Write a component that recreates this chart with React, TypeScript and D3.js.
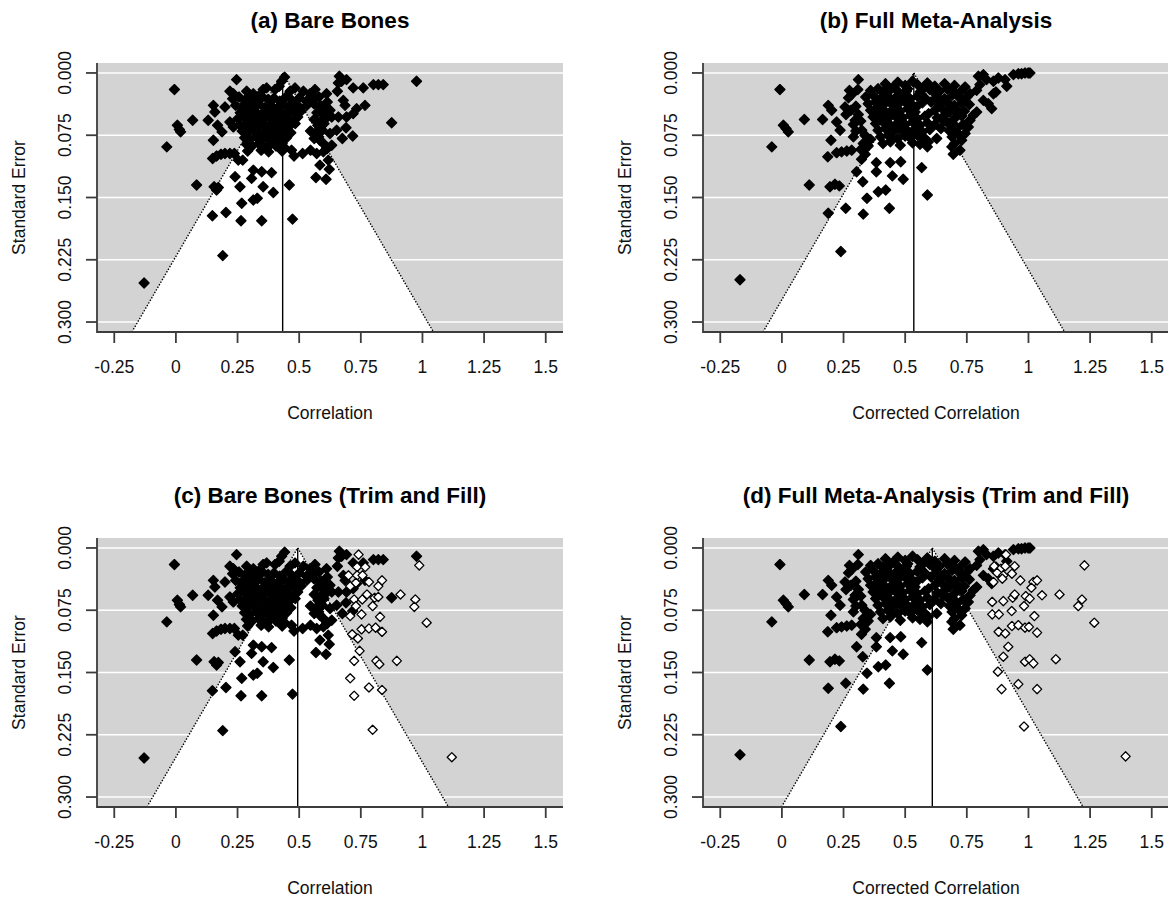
import React from 'react';
import * as d3 from 'd3';

type Pt = [number, number];

// x tick values / labels shared by all four funnel plots
const xTicks = [-0.25, 0, 0.25, 0.5, 0.75, 1, 1.25, 1.5];
const xTickLabels = ['-0.25', '0', '0.25', '0.5', '0.75', '1', '1.25', '1.5'];
const yTicks = [0, 0.075, 0.15, 0.225, 0.3];
const yTickLabels = ['0.000', '0.075', '0.150', '0.225', '0.300'];

// pooled estimates (vertical reference line)
const estimates = { a: 0.433, b: 0.535, c: 0.494, d: 0.61 };

// observed studies, bare-bones correlation vs standard error
const bareBones: Pt[] = [
  [-0.129, 0.253], [0.19, 0.22], [0.976, 0.01], [0.875, 0.06],
  [-0.006, 0.02], [-0.037, 0.089], [0.006, 0.063], [0.014, 0.068], [0.019, 0.071],
  [0.068, 0.057], [0.084, 0.135], [0.131, 0.057], [0.152, 0.039], [0.158, 0.047],
  [0.199, 0.041], [0.169, 0.063], [0.187, 0.071], [0.219, 0.059], [0.246, 0.008],
  [0.233, 0.065], [0.152, 0.081],
  [0.149, 0.103], [0.165, 0.1], [0.183, 0.098], [0.199, 0.097], [0.219, 0.097], [0.237, 0.097], [0.253, 0.105], [0.271, 0.105],
  [0.24, 0.125], [0.314, 0.117], [0.348, 0.119], [0.388, 0.12], [0.307, 0.127], [0.26, 0.137], [0.354, 0.137], [0.395, 0.144],
  [0.155, 0.137], [0.172, 0.138], [0.165, 0.141], [0.267, 0.157], [0.314, 0.153], [0.33, 0.151],
  [0.148, 0.172], [0.203, 0.168], [0.264, 0.178], [0.348, 0.178], [0.46, 0.135], [0.473, 0.176],
  [0.584, 0.111], [0.618, 0.105], [0.622, 0.116], [0.568, 0.126], [0.609, 0.128],
  [0.469, 0.093], [0.479, 0.1], [0.514, 0.097], [0.546, 0.093], [0.571, 0.097], [0.598, 0.095],
  [0.614, 0.091], [0.632, 0.087], [0.611, 0.089], [0.598, 0.085], [0.584, 0.081],
  [0.663, 0.004], [0.672, 0.01], [0.692, 0.008], [0.659, 0.012], [0.655, 0.022], [0.679, 0.033],
  [0.686, 0.039], [0.719, 0.018], [0.76, 0.018], [0.801, 0.014], [0.821, 0.014], [0.841, 0.014],
  [0.767, 0.039], [0.733, 0.043], [0.719, 0.049], [0.692, 0.053], [0.659, 0.053], [0.69, 0.066],
  [0.717, 0.076], [0.675, 0.079], [0.652, 0.069], [0.625, 0.073], [0.611, 0.025], [0.614, 0.035],
  [0.584, 0.041], [0.625, 0.045], [0.632, 0.053],
  [0.429, 0.01], [0.419, 0.016], [0.441, 0.005],
  [0.219, 0.022], [0.233, 0.025], [0.287, 0.022], [0.314, 0.025], [0.354, 0.02], [0.368, 0.018],
  [0.402, 0.02], [0.463, 0.022], [0.483, 0.018], [0.517, 0.022], [0.544, 0.025], [0.564, 0.02],
  [0.23, 0.031], [0.256, 0.029], [0.279, 0.033], [0.302, 0.03], [0.326, 0.034], [0.351, 0.029],
  [0.374, 0.032], [0.398, 0.03], [0.421, 0.034], [0.446, 0.029], [0.471, 0.033], [0.5, 0.03],
  [0.529, 0.034], [0.556, 0.031], [0.58, 0.029],
  [0.242, 0.039], [0.266, 0.042], [0.289, 0.038], [0.311, 0.041], [0.336, 0.037], [0.361, 0.042],
  [0.386, 0.039], [0.409, 0.043], [0.434, 0.038], [0.456, 0.041], [0.479, 0.037], [0.503, 0.042],
  [0.531, 0.039], [0.56, 0.037], [0.59, 0.04], [0.604, 0.043],
  [0.261, 0.048], [0.284, 0.046], [0.301, 0.05], [0.324, 0.047], [0.346, 0.05], [0.371, 0.046],
  [0.394, 0.049], [0.419, 0.047], [0.44, 0.05], [0.466, 0.046], [0.49, 0.049], [0.508, 0.046],
  [0.572, 0.048], [0.601, 0.05],
  [0.251, 0.055], [0.276, 0.053], [0.296, 0.057], [0.319, 0.054], [0.341, 0.058], [0.366, 0.053],
  [0.389, 0.056], [0.411, 0.054], [0.431, 0.058], [0.454, 0.055], [0.476, 0.057], [0.494, 0.053],
  [0.561, 0.056], [0.586, 0.058], [0.608, 0.055],
  [0.259, 0.062], [0.281, 0.064], [0.306, 0.061], [0.329, 0.065], [0.354, 0.062], [0.376, 0.064],
  [0.399, 0.061], [0.421, 0.065], [0.439, 0.062], [0.461, 0.064], [0.484, 0.061],
  [0.576, 0.063], [0.601, 0.061],
  [0.269, 0.07], [0.291, 0.072], [0.314, 0.069], [0.339, 0.073], [0.361, 0.07], [0.384, 0.072],
  [0.406, 0.069], [0.424, 0.073], [0.446, 0.07], [0.466, 0.072], [0.546, 0.07], [0.569, 0.072], [0.594, 0.069],
  [0.279, 0.078], [0.301, 0.08], [0.326, 0.077], [0.344, 0.081], [0.369, 0.078], [0.391, 0.08],
  [0.411, 0.077], [0.431, 0.081], [0.449, 0.078], [0.561, 0.079], [0.579, 0.077],
  [0.286, 0.086], [0.309, 0.088], [0.336, 0.085], [0.359, 0.089], [0.384, 0.086], [0.406, 0.088],
  [0.431, 0.085], [0.441, 0.09],
  [0.291, 0.094], [0.346, 0.093], [0.376, 0.095], [0.431, 0.094],
  [0.335, 0.028], [0.385, 0.046], [0.445, 0.052], [0.295, 0.065], [0.355, 0.074], [0.415, 0.082],
  [0.475, 0.044], [0.31, 0.057], [0.4, 0.065], [0.27, 0.04],
];

// observed studies, fully corrected correlation vs standard error
const fullMeta: Pt[] = [
  [-0.17, 0.249], [0.239, 0.215], [-0.008, 0.02], [-0.041, 0.089], [0.006, 0.063], [0.017, 0.067], [0.026, 0.071],
  [0.091, 0.056], [0.111, 0.135], [0.165, 0.056], [0.188, 0.039], [0.202, 0.045], [0.199, 0.081],
  [0.186, 0.101], [0.222, 0.096], [0.242, 0.095], [0.263, 0.094], [0.283, 0.093],
  [0.195, 0.137], [0.215, 0.134], [0.233, 0.136], [0.188, 0.169], [0.259, 0.163], [0.33, 0.17], [0.345, 0.151],
  [0.328, 0.131], [0.303, 0.119], [0.323, 0.104], [0.338, 0.098], [0.383, 0.108], [0.383, 0.119],
  [0.391, 0.143], [0.421, 0.141], [0.439, 0.108], [0.448, 0.124], [0.482, 0.107], [0.492, 0.128],
  [0.436, 0.163], [0.567, 0.114], [0.59, 0.147],
  [0.31, 0.008], [0.274, 0.021], [0.308, 0.02], [0.256, 0.041], [0.222, 0.059], [0.236, 0.069],
  [0.29, 0.077], [0.297, 0.057], [0.27, 0.03], [0.283, 0.026], [0.324, 0.069], [0.337, 0.075],
  [0.26, 0.05], [0.28, 0.045], [0.3, 0.04], [0.31, 0.05], [0.29, 0.062], [0.32, 0.058], [0.3, 0.07],
  [0.33, 0.085], [0.32, 0.092], [0.35, 0.088], [0.36, 0.08],
  [0.576, 0.079], [0.594, 0.083], [0.628, 0.079], [0.695, 0.098], [0.689, 0.089],
  [0.797, 0.004], [0.817, 0.002], [0.803, 0.014], [0.83, 0.008], [0.858, 0.01], [0.878, 0.006],
  [0.905, 0.008], [0.912, 0.016], [0.939, 0.002], [0.959, 0.001], [0.972, 0.001], [0.986, 0.0],
  [0.999, 0.0], [1.006, 0.0], [0.858, 0.025], [0.868, 0.023], [0.817, 0.033], [0.837, 0.037],
  [0.851, 0.043], [0.79, 0.047], [0.776, 0.051], [0.763, 0.057], [0.756, 0.065], [0.743, 0.073],
  [0.729, 0.081], [0.722, 0.093], [0.743, 0.017], [0.763, 0.025], [0.79, 0.021], [0.709, 0.072], [0.686, 0.064],
  [0.42, 0.013], [0.47, 0.011], [0.5, 0.015], [0.53, 0.01], [0.55, 0.014], [0.59, 0.012], [0.62, 0.016], [0.66, 0.013], [0.7, 0.015],
  [0.36, 0.021], [0.39, 0.019], [0.41, 0.023], [0.44, 0.02], [0.47, 0.022], [0.51, 0.019], [0.56, 0.023],
  [0.6, 0.02], [0.64, 0.022], [0.67, 0.019], [0.7, 0.023], [0.73, 0.021],
  [0.34, 0.029], [0.37, 0.027], [0.4, 0.031], [0.43, 0.028], [0.46, 0.03], [0.49, 0.027], [0.52, 0.031],
  [0.55, 0.028], [0.58, 0.03], [0.63, 0.029], [0.66, 0.031], [0.69, 0.027], [0.72, 0.03], [0.75, 0.029],
  [0.35, 0.037], [0.38, 0.035], [0.41, 0.039], [0.44, 0.036], [0.47, 0.038], [0.5, 0.035], [0.53, 0.039],
  [0.57, 0.036], [0.64, 0.038], [0.67, 0.035], [0.7, 0.039], [0.73, 0.036], [0.76, 0.038],
  [0.36, 0.045], [0.39, 0.043], [0.42, 0.047], [0.45, 0.044], [0.48, 0.046], [0.51, 0.043], [0.54, 0.047],
  [0.62, 0.045], [0.65, 0.043], [0.68, 0.047], [0.71, 0.044], [0.74, 0.046],
  [0.37, 0.053], [0.4, 0.051], [0.43, 0.055], [0.46, 0.052], [0.49, 0.054], [0.52, 0.051], [0.55, 0.055],
  [0.58, 0.052], [0.63, 0.054], [0.66, 0.051], [0.7, 0.055], [0.73, 0.052],
  [0.38, 0.061], [0.41, 0.059], [0.44, 0.063], [0.47, 0.06], [0.5, 0.062], [0.53, 0.059], [0.56, 0.063],
  [0.59, 0.06], [0.62, 0.062], [0.67, 0.059], [0.7, 0.063],
  [0.39, 0.069], [0.42, 0.067], [0.45, 0.071], [0.48, 0.068], [0.51, 0.07], [0.54, 0.067], [0.57, 0.071],
  [0.6, 0.068], [0.68, 0.07], [0.71, 0.067],
  [0.4, 0.077], [0.43, 0.075], [0.47, 0.079], [0.5, 0.076], [0.52, 0.078], [0.55, 0.075], [0.58, 0.079],
  [0.69, 0.077], [0.72, 0.075],
  [0.41, 0.085], [0.44, 0.083], [0.48, 0.087], [0.53, 0.084], [0.56, 0.086], [0.59, 0.089], [0.7, 0.085],
  [0.455, 0.016], [0.575, 0.018], [0.625, 0.026], [0.485, 0.033], [0.545, 0.041], [0.605, 0.035],
  [0.435, 0.049], [0.595, 0.049], [0.655, 0.058], [0.465, 0.065], [0.525, 0.073], [0.445, 0.079],
  [0.735, 0.062], [0.405, 0.055], [0.375, 0.045], [0.685, 0.041], [0.715, 0.049], [0.505, 0.022],
  [0.415, 0.031], [0.645, 0.067],
];

// imputed (trim and fill) studies, bare bones
const bareBonesFilled: Pt[] = [
  [0.741, 0.008], [0.735, 0.023], [0.768, 0.023], [0.7, 0.033], [0.735, 0.033], [0.757, 0.033],
  [0.707, 0.046], [0.73, 0.042], [0.783, 0.041], [0.821, 0.046], [0.836, 0.039], [0.723, 0.062],
  [0.756, 0.062], [0.775, 0.056], [0.806, 0.06], [0.821, 0.059], [0.73, 0.07], [0.798, 0.07],
  [0.911, 0.056], [0.971, 0.062], [0.967, 0.071], [0.987, 0.021], [0.707, 0.082], [0.753, 0.08],
  [0.828, 0.083], [1.017, 0.09], [0.715, 0.104], [0.738, 0.109], [0.753, 0.098], [0.783, 0.097],
  [0.81, 0.096], [0.836, 0.101], [0.745, 0.124], [0.723, 0.136], [0.813, 0.136], [0.825, 0.14],
  [0.896, 0.136], [0.707, 0.157], [0.723, 0.178], [0.783, 0.168], [0.836, 0.171], [0.798, 0.219],
  [1.119, 0.252],
];

// imputed (trim and fill) studies, full meta-analysis
const fullMetaFilled: Pt[] = [
  [0.909, 0.008], [1.227, 0.021], [0.861, 0.022], [0.888, 0.025], [0.906, 0.022], [0.944, 0.022],
  [0.873, 0.03], [0.898, 0.033], [0.933, 0.031], [0.858, 0.041], [0.894, 0.037], [0.967, 0.039],
  [1.02, 0.041], [1.035, 0.039], [1.012, 0.048], [0.853, 0.065], [0.898, 0.064], [0.936, 0.06],
  [0.944, 0.056], [0.989, 0.058], [1.005, 0.061], [1.055, 0.057], [1.126, 0.056], [1.217, 0.062],
  [1.202, 0.07], [1.267, 0.09], [0.853, 0.08], [0.88, 0.08], [0.932, 0.076], [0.982, 0.07],
  [1.024, 0.082], [0.879, 0.101], [0.906, 0.103], [0.933, 0.094], [0.959, 0.093], [0.986, 0.096],
  [1.002, 0.095], [1.035, 0.102], [0.918, 0.119], [0.898, 0.131], [0.986, 0.137], [1.005, 0.134],
  [1.02, 0.139], [1.111, 0.134], [0.876, 0.149], [0.891, 0.17], [0.959, 0.164], [1.035, 0.17],
  [0.982, 0.215], [1.394, 0.251],
];

const PW = 466;
const PH = 269;
const FONT = '"Liberation Sans", Arial, Helvetica, sans-serif';

const x = d3.scaleLinear().domain([-0.32, 1.57]).range([0, PW]);
const y = d3.scaleLinear().domain([-0.012, 0.312]).range([0, PH]);

const diamond = (r: number) => `M0,${-r}L${r},0L0,${r}L${-r},0Z`;

interface PanelProps {
  ox: number;
  oy: number;
  title: string;
  xlabel: string;
  est: number;
  obs: Pt[];
  filled?: Pt[];
}

const Funnel = ({ ox, oy, title, xlabel, est, obs, filled = [] }: PanelProps) => {
  const yMax = y.domain()[1];
  const funnel = [
    [x(est - 1.96 * yMax), y(yMax)],
    [x(est), y(0)],
    [x(est + 1.96 * yMax), y(yMax)],
  ];
  const axisCol = '#3c3c3c';
  return (
    <g transform={`translate(${ox},${oy})`}>
      <text x={PW / 2} y={-35} textAnchor="middle" fontFamily={FONT} fontWeight="bold" fontSize={22.5}>
        {title}
      </text>
      <rect x={0} y={0} width={PW} height={PH} fill="#d3d3d3" />
      <polygon points={funnel.map((p) => p.join(',')).join(' ')} fill="#fff" />
      {yTicks.map((t) => (
        <line key={t} x1={0} x2={PW} y1={y(t)} y2={y(t)} stroke="#fff" strokeWidth={1.6} />
      ))}
      <line x1={funnel[0][0]} y1={funnel[0][1]} x2={funnel[1][0]} y2={funnel[1][1]} stroke="#000" strokeWidth={1.4} strokeDasharray="1.4,1.6" />
      <line x1={funnel[1][0]} y1={funnel[1][1]} x2={funnel[2][0]} y2={funnel[2][1]} stroke="#000" strokeWidth={1.4} strokeDasharray="1.4,1.6" />
      <line x1={x(est)} x2={x(est)} y1={y(0)} y2={PH} stroke="#000" strokeWidth={1.4} />
      {obs.map((d, i) => (
        <path key={`o${i}`} d={diamond(5)} transform={`translate(${x(d[0])},${y(d[1])})`}
          fill="#000" stroke="#000" strokeWidth={1.3} strokeLinejoin="round" />
      ))}
      {filled.map((d, i) => (
        <path key={`f${i}`} d={diamond(4.6)} transform={`translate(${x(d[0])},${y(d[1])})`}
          fill="#fff" stroke="#000" strokeWidth={1.3} strokeLinejoin="round" />
      ))}
      {/* L-shaped box */}
      <path d={`M0,0V${PH}H${PW}`} fill="none" stroke={axisCol} strokeWidth={1.8} />
      {xTicks.map((t, i) => (
        <g key={t} transform={`translate(${x(t)},${PH})`}>
          <line y1={0} y2={11} stroke={axisCol} strokeWidth={1.8} />
          <text y={41} textAnchor="middle" fontFamily={FONT} fontSize={17.5} fill="#111">
            {xTickLabels[i]}
          </text>
        </g>
      ))}
      {yTicks.map((t, i) => (
        <g key={t} transform={`translate(0,${y(t)})`}>
          <line x1={0} x2={-11} stroke={axisCol} strokeWidth={1.8} />
          <text transform="translate(-26,0) rotate(-90)" textAnchor="middle" fontFamily={FONT} fontSize={17.5} fill="#111">
            {yTickLabels[i]}
          </text>
        </g>
      ))}
      <text x={PW / 2} y={PH + 87} textAnchor="middle" fontFamily={FONT} fontSize={17.5} fill="#111">
        {xlabel}
      </text>
      <text transform={`translate(${-72},${PH / 2}) rotate(-90)`} textAnchor="middle" fontFamily={FONT} fontSize={17.5} fill="#111">
        Standard Error
      </text>
    </g>
  );
};

export default function App() {
  return (
    <div style={{ position: 'absolute', left: 0, top: 0, width: 1168, height: 900, background: '#fff' }}>
      <svg width={1168} height={900} style={{ display: 'block' }}>
        <rect width={1168} height={900} fill="#fff" />
        <Funnel ox={97} oy={63} title="(a) Bare Bones" xlabel="Correlation" est={estimates.a} obs={bareBones} />
        <Funnel ox={703} oy={63} title="(b) Full Meta-Analysis" xlabel="Corrected Correlation" est={estimates.b} obs={fullMeta} />
        <Funnel ox={97} oy={538} title="(c) Bare Bones (Trim and Fill)" xlabel="Correlation" est={estimates.c} obs={bareBones} filled={bareBonesFilled} />
        <Funnel ox={703} oy={538} title="(d) Full Meta-Analysis (Trim and Fill)" xlabel="Corrected Correlation" est={estimates.d} obs={fullMeta} filled={fullMetaFilled} />
      </svg>
    </div>
  );
}
